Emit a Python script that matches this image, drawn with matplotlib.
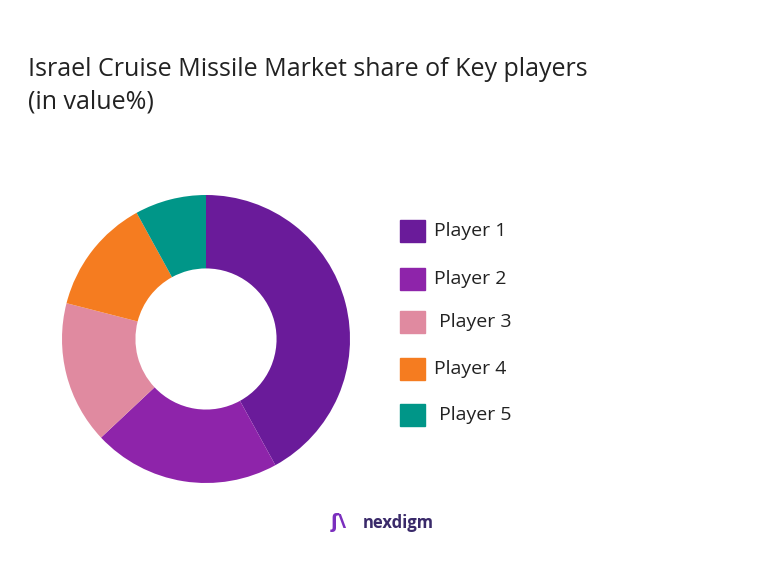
import matplotlib
matplotlib.use("Agg")
import matplotlib.pyplot as plt
from matplotlib.patches import Rectangle

labels = ["Player 1", "Player 2", " Player 3", "Player 4", " Player 5"]
values = [42, 21, 16, 13, 8]
colors = ["#6A1B9A", "#8E24AA", "#E08AA0", "#F57C20", "#009688"]

W, H = 771, 578
fig = plt.figure(figsize=(W/100, H/100), dpi=100)
plt.rcParams['font.family'] = ['Open Sans', 'DejaVu Sans']

ax = fig.add_axes([62/W, (H-483)/H, 288/W, 288/H])
ax.pie(values, colors=colors, startangle=90, counterclock=False,
       wedgeprops=dict(width=0.51, edgecolor='none'))
ax.set_xlim(-1, 1)
ax.set_ylim(-1, 1)
ax.set_aspect('equal')
ax.axis('off')

fig.text(28/W, 1-70/H, "Israel Cruise Missile Market share of Key players",
         fontsize=18, va='center', ha='left', color='#222222')
fig.text(28/W, 1-102/H, "(in value%)", fontsize=18, va='center', ha='left', color='#222222')

ys = [231, 279, 322, 369, 415]
for lab, col, y in zip(labels, colors, ys):
    fig.patches.append(Rectangle((400/W, 1-(y+11)/H), 25/W, 22/H, color=col,
                                 transform=fig.transFigure, figure=fig))
    fig.text(434/W, 1-y/H, lab, fontsize=14, va='center', ha='left', color='#222222')

fig.text(331/W, 1-523/H, "ʃ\\", fontsize=14, color='#7B2FBE', va='center', ha='left', fontweight='bold')
fig.text(363/W, 1-523/H, "nexdigm", fontsize=12, color='#3a2a6a', va='center', ha='left', fontweight='bold')

fig.savefig("out.png", dpi=100, facecolor='white')
